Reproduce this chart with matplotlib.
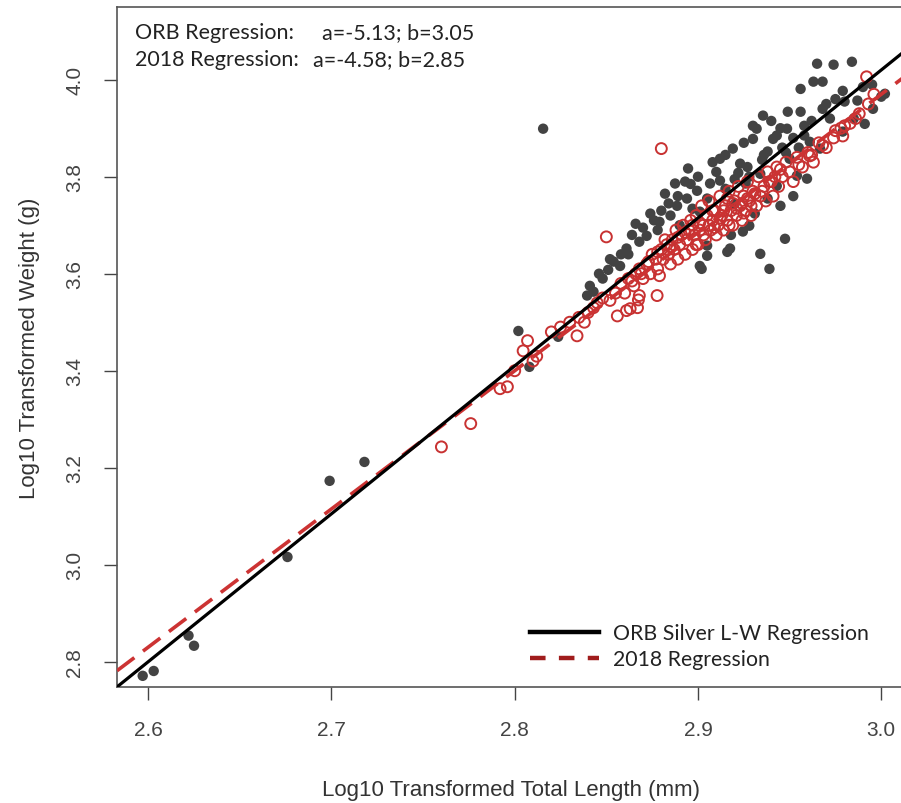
import matplotlib
matplotlib.use("Agg")
import matplotlib.pyplot as plt
from matplotlib.lines import Line2D

# ORB silver data (log10 TL, log10 W) - filled grey points
orb_x = [2.8155, 2.802, 2.808, 2.8237, 2.718, 2.699, 2.676, 2.597, 2.603, 2.622, 2.625,
         2.965, 2.974, 2.984, 2.956, 2.963, 2.968, 2.979, 2.987, 2.9955, 3.002,
         2.9355, 2.949, 2.932, 2.943, 2.919, 2.910, 2.912, 2.954, 2.9595, 2.943,
         2.956, 2.905, 2.901, 2.928, 2.9245, 2.9175, 2.905, 2.902, 2.938, 2.945,
         2.985, 2.979, 2.961, 2.938, 2.941, 2.9486, 2.923, 2.930, 2.8946, 2.8995,
         2.894, 2.8886, 2.885, 2.879, 2.872, 2.868, 2.861, 2.854, 2.8575, 2.848,
         2.841, 2.843, 2.8395, 2.905, 2.901, 2.916, 2.874, 2.866, 2.882, 2.8875,
         2.9066, 2.915, 2.926, 2.934, 2.920, 2.931, 2.950, 2.9666, 2.972, 2.991,
         3.000, 2.934, 2.9475, 2.939, 2.952, 2.927, 2.912, 2.897, 2.890, 2.878,
         2.862, 2.851, 2.958, 2.970, 2.946, 2.936, 2.922, 2.918, 2.893,
         2.925, 2.930, 2.940, 2.945, 2.952, 2.958, 2.962, 2.968, 2.975, 2.980,
         2.990, 2.995, 2.915, 2.908, 2.900, 2.896, 2.889, 2.884, 2.880, 2.876,
         2.870, 2.864, 2.858, 2.852, 2.846, 2.935, 2.948, 2.955, 2.928, 2.920]
orb_y = [3.899, 3.482, 3.408, 3.470, 3.212, 3.173, 3.016, 2.771, 2.781, 2.854, 2.833,
         4.033, 4.031, 4.037, 3.981, 3.996, 3.996, 3.977, 3.957, 3.940, 3.971,
         3.926, 3.934, 3.899, 3.885, 3.858, 3.810, 3.837, 3.802, 3.796, 3.781,
         3.934, 3.755, 3.728, 3.699, 3.687, 3.652, 3.637, 3.610, 3.755, 3.740,
         3.920, 3.893, 3.872, 3.852, 3.878, 3.899, 3.827, 3.878, 3.817, 3.771,
         3.755, 3.740, 3.720, 3.707, 3.678, 3.666, 3.652, 3.625, 3.616, 3.590,
         3.575, 3.563, 3.555, 3.658, 3.616, 3.645, 3.724, 3.703, 3.765, 3.786,
         3.786, 3.775, 3.786, 3.806, 3.744, 3.724, 3.837, 3.858, 3.920, 3.909,
         3.965, 3.641, 3.672, 3.610, 3.760, 3.820, 3.792, 3.734, 3.700, 3.690,
         3.640, 3.608, 3.905, 3.950, 3.860, 3.845, 3.808, 3.680, 3.790,
         3.870, 3.905, 3.915, 3.900, 3.880, 3.885, 3.915, 3.940, 3.960, 3.955,
         3.985, 3.990, 3.845, 3.830, 3.800, 3.785, 3.760, 3.745, 3.730, 3.710,
         3.695, 3.680, 3.640, 3.630, 3.600, 3.835, 3.850, 3.860, 3.800, 3.795]

# 2018 data - open red circles
y18_x = [2.880, 2.850, 2.879, 2.8777, 2.868, 2.863, 2.856, 2.867, 2.8675, 2.760,
         2.776, 2.796, 2.792, 2.8046, 2.807, 2.834, 2.861, 2.992, 2.961, 2.979,
         2.820, 2.825, 2.830, 2.835, 2.838, 2.843, 2.800, 2.810, 2.812,
         2.840, 2.845, 2.848, 2.852, 2.855, 2.858, 2.860, 2.862, 2.865, 2.866,
         2.868, 2.870, 2.872, 2.874, 2.875, 2.877, 2.878, 2.880, 2.881, 2.883,
         2.884, 2.885, 2.886, 2.887, 2.888, 2.889, 2.890, 2.891, 2.892, 2.893,
         2.894, 2.895, 2.896, 2.897, 2.898, 2.899, 2.900, 2.901, 2.902, 2.903,
         2.904, 2.905, 2.906, 2.907, 2.908, 2.909, 2.910, 2.911, 2.912, 2.913,
         2.914, 2.915, 2.916, 2.917, 2.918, 2.919, 2.920, 2.921, 2.922, 2.923,
         2.924, 2.925, 2.926, 2.927, 2.928, 2.929, 2.930, 2.932, 2.933, 2.934,
         2.936, 2.937, 2.938, 2.940, 2.941, 2.943, 2.944, 2.946, 2.948, 2.950,
         2.952, 2.954, 2.957, 2.960, 2.963, 2.966, 2.970, 2.974, 2.978, 2.983,
         2.988, 2.993, 2.996,
         2.885, 2.889, 2.893, 2.897, 2.901, 2.903, 2.906, 2.909, 2.912, 2.914,
         2.917, 2.919, 2.921, 2.924, 2.927, 2.929, 2.931, 2.935, 2.939, 2.942,
         2.878, 2.882, 2.873, 2.869, 2.864, 2.899, 2.908, 2.916, 2.925, 2.945,
         2.955, 2.962, 2.968, 2.975, 2.980, 2.986]
y18_y = [3.858, 3.676, 3.596, 3.555, 3.555, 3.528, 3.513, 3.530, 3.546, 3.243,
         3.291, 3.367, 3.363, 3.441, 3.462, 3.472, 3.524, 4.006, 3.843, 3.884,
         3.480, 3.490, 3.500, 3.510, 3.500, 3.530, 3.400, 3.420, 3.430,
         3.520, 3.540, 3.550, 3.545, 3.560, 3.580, 3.560, 3.590, 3.575, 3.600,
         3.610, 3.590, 3.620, 3.600, 3.640, 3.630, 3.610, 3.650, 3.630, 3.660,
         3.640, 3.620, 3.670, 3.650, 3.690, 3.630, 3.660, 3.680, 3.700, 3.640,
         3.670, 3.690, 3.710, 3.650, 3.680, 3.720, 3.660, 3.690, 3.740, 3.700,
         3.670, 3.720, 3.750, 3.690, 3.710, 3.730, 3.680, 3.700, 3.760, 3.720,
         3.690, 3.740, 3.710, 3.770, 3.730, 3.700, 3.750, 3.720, 3.780, 3.740,
         3.710, 3.760, 3.730, 3.790, 3.750, 3.720, 3.770, 3.740, 3.800, 3.760,
         3.780, 3.750, 3.810, 3.790, 3.760, 3.820, 3.780, 3.800, 3.830, 3.810,
         3.790, 3.840, 3.820, 3.850, 3.830, 3.870, 3.860, 3.880, 3.900, 3.910,
         3.930, 3.950, 3.970,
         3.655, 3.675, 3.685, 3.700, 3.705, 3.680, 3.700, 3.695, 3.715, 3.730,
         3.700, 3.745, 3.735, 3.745, 3.755, 3.740, 3.765, 3.770, 3.790, 3.800,
         3.645, 3.670, 3.625, 3.600, 3.585, 3.660, 3.730, 3.755, 3.725, 3.815,
         3.825, 3.845, 3.865, 3.895, 3.905, 3.920]

# regression coefficients log10(W) = a + b*log10(TL)
orb_a, orb_b = -5.13, 3.05
reg_a, reg_b = -4.58, 2.85

xmin, xmax = 2.583, 3.013
ymin, ymax = 2.748, 4.150

plt.rcParams["font.family"] = ["Liberation Sans", "DejaVu Sans"]

fig = plt.figure(figsize=(9.01, 8.04), dpi=100)
ax = fig.add_axes([0.1299, 0.1443, 0.8746, 0.8458])

ax.scatter(orb_x, orb_y, s=56, color="#434343", edgecolors="none", zorder=2)
ax.scatter(y18_x, y18_y, s=62, facecolors="none", edgecolors="#c83232", linewidths=1.4, zorder=3)

lx = [xmin, xmax]
ax.plot(lx, [orb_a + orb_b * v for v in lx], color="black", lw=2.3, zorder=5)
ax.plot(lx, [reg_a + reg_b * v for v in lx], color="#cc3333", lw=2.6,
        dashes=(6, 3), zorder=4)

ax.set_xlim(xmin, xmax)
ax.set_ylim(ymin, ymax)
ax.set_xticks([2.6, 2.7, 2.8, 2.9, 3.0])
ax.set_yticks([2.8, 3.0, 3.2, 3.4, 3.6, 3.8, 4.0])
ax.set_xticklabels(["2.6", "2.7", "2.8", "2.9", "3.0"])
ax.set_yticklabels(["2.8", "3.0", "3.2", "3.4", "3.6", "3.8", "4.0"],
                   rotation=90, va="center")
ax.tick_params(length=9.5, width=1.0, color="#444444", pad=14,
               labelsize=15, labelcolor="#444444")
for s in ax.spines.values():
    s.set_color("#555555")
    s.set_linewidth(1.2)

ax.set_xlabel("Log10 Transformed Total Length (mm)", fontsize=16, color="#333333", labelpad=29)
ax.set_ylabel("Log10 Transformed Weight (g)", fontsize=16, color="#333333", labelpad=18)

# coefficient annotation
tfont = dict(fontsize=15.5, color="#222222", family="Lato", va="center")
fig.text(135 / 901, 1 - 33 / 804, "ORB Regression:", **tfont)
fig.text(322 / 901, 1 - 33 / 804, "a=-5.13; b=3.05", **tfont)
fig.text(135 / 901, 1 - 60 / 804, "2018 Regression:", **tfont)
fig.text(313 / 901, 1 - 60 / 804, "a=-4.58; b=2.85", **tfont)

handles = [Line2D([], [], color="black", lw=3.2),
           Line2D([], [], color="#a01c1c", lw=3.2, dashes=(3.5, 3))]
leg = ax.legend(handles, ["ORB Silver L-W Regression", "2018 Regression"],
                loc="lower left", bbox_to_anchor=(530 / 901, 1 - 670 / 804),
                bbox_transform=fig.transFigure, frameon=False, borderpad=0,
                borderaxespad=0, prop={"family": "Lato", "size": 15.3},
                handlelength=3.25, handletextpad=0.65, labelspacing=0.28)
for t in leg.get_texts():
    t.set_color("#222222")

fig.savefig("out.png", dpi=100)
